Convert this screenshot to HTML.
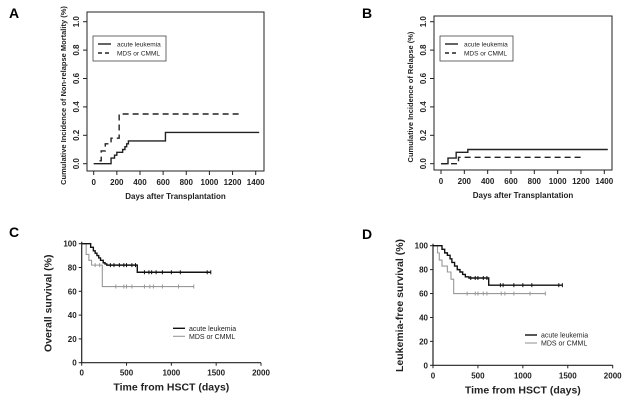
<!DOCTYPE html>
<html><head><meta charset="utf-8"><style>
html,body{margin:0;padding:0;background:#fff;width:634px;height:405px;overflow:hidden}
svg text{font-family:"Liberation Sans",sans-serif}
</style></head><body>
<svg id="s" width="634" height="405" xmlns="http://www.w3.org/2000/svg"></svg>
<script>
// Panel A data (cumulative incidence of non-relapse mortality)
const aAcuteT=[0,150,180,200,250,270,285,300,620,1430];
const aAcuteV=[0,0.04,0.06,0.08,0.10,0.12,0.14,0.16,0.22,0.22];
const aMdsT=[50,65,100,150,220,1260];
const aMdsV=[0.02,0.09,0.14,0.18,0.35,0.35];
// Panel B data (cumulative incidence of relapse)
const bAcuteT=[0,60,100,130,230,1430];
const bAcuteV=[0,0.04,0.04,0.08,0.10,0.10];
const bMdsT=[0,150,1210];
const bMdsV=[0,0.045,0.045];
// Panel C data (overall survival %)
const cAcuteT=[0,100,130,150,170,190,210,240,260,280,620,1440];
const cAcuteV=[100,97,94,92,90,88,86,84,83,82,76,76];
const cAcuteCens=[320,360,420,470,500,560,600,700,750,780,830,900,1000,1100,1400,1440];
const cMdsT=[0,50,80,110,230,1250];
const cMdsV=[100,91,86,82,64,64];
const cMdsCens=[150,200,380,470,500,560,700,760,800,900,1080,1250];
// Panel D data (leukemia-free survival %)
const dAcuteT=[0,100,130,160,190,210,240,270,300,330,360,400,620,1440];
const dAcuteV=[100,97,94,92,89,86,83,80,78,76,74,73,67,67];
const dAcuteCens=[420,470,500,560,600,750,780,900,1000,1100,1400,1440];
const dMdsT=[0,50,70,100,160,200,230,1250];
const dMdsV=[100,94,88,83,78,72,60,60];
const dMdsCens=[380,470,500,560,600,760,800,900,1080,1250];
const xTicksA=[0,200,400,600,800,1000,1200,1400];
const yTicksA=[0,0.2,0.4,0.6,0.8,1.0];
const xTicksC=[0,500,1000,1500,2000];
const yTicksC=[0,20,40,60,80,100];

const S=document.getElementById('s');const NS='http://www.w3.org/2000/svg';
function el(tag,at,txt){const e=document.createElementNS(NS,tag);for(const k in at)e.setAttribute(k,at[k]);if(txt!=null)e.textContent=txt;S.appendChild(e);return e;}
function lin(d0,d1,p0,p1){return v=>p0+(v-d0)/(d1-d0)*(p1-p0);}
function stepPath(T,V,x,y){let d='M'+x(T[0])+','+y(V[0]);for(let i=1;i<T.length;i++){d+='H'+x(T[i])+'V'+y(V[i]);}return d;}

function rPanel(letter,lx,ly,box,x0,x1,ytitle,aT,aV,mT,mV,leg,name){
  const x=lin(0,1400,x0,x1),y=lin(0,1,163.7,21.7);
  let t=el('text',{x:lx,y:ly,'font-size':14,'font-weight':'bold'},letter);
  
  let r=el('rect',{x:box[0],y:box[1],width:box[2]-box[0],height:box[3]-box[1],fill:'none',stroke:'#222','stroke-width':1});
  
  xTicksA.forEach(v=>{el('line',{x1:x(v),x2:x(v),y1:box[3],y2:box[3]+4,stroke:'#222'});
    const tt=el('text',{x:x(v),y:box[3]+14,'font-size':8,'font-weight':'bold','text-anchor':'middle',fill:'#222'},v);
    });
  yTicksA.forEach(v=>{el('line',{x1:box[0]-4,x2:box[0],y1:y(v),y2:y(v),stroke:'#222'});
    const tt=el('text',{x:box[0]-8,y:y(v),'font-size':8,'font-weight':'bold','text-anchor':'middle',fill:'#222',transform:`rotate(-90 ${box[0]-8} ${y(v)})`},v.toFixed(1));
    });
  const xt=el('text',{x:(box[0]+box[2])/2,y:box[3]+28,'font-size':8,'font-weight':'bold','text-anchor':'middle',fill:'#222'},'Days after Transplantation');
  
  const yx=box[0]-21,yy=(box[1]+box[3])/2+4;
  const yt=el('text',{x:yx,y:yy,'font-size':7.5,'font-weight':'bold','text-anchor':'middle',fill:'#222',transform:`rotate(-90 ${yx} ${yy})`},ytitle);
  
  const p1=el('path',{d:stepPath(aT,aV,x,y),fill:'none',stroke:'#222','stroke-width':1.4});
  
  const p2=el('path',{d:stepPath(mT,mV,x,y),fill:'none',stroke:'#222','stroke-width':1.4,'stroke-dasharray':'6,4'});
  
  const lg=el('rect',{x:leg[0],y:leg[1],width:73,height:25,fill:'#fff',stroke:'#444','stroke-width':0.8});
  
  el('line',{x1:leg[0]+5,x2:leg[0]+18,y1:leg[1]+8,y2:leg[1]+8,stroke:'#222','stroke-width':1.4});
  el('line',{x1:leg[0]+5,x2:leg[0]+18,y1:leg[1]+17,y2:leg[1]+17,stroke:'#222','stroke-width':1.4,'stroke-dasharray':'4,3'});
  const l1=el('text',{x:leg[0]+24,y:leg[1]+10.5,'font-size':6.5,fill:'#222'},'acute leukemia');
  
  const l2=el('text',{x:leg[0]+24,y:leg[1]+19.5,'font-size':6.5,fill:'#222'},'MDS or CMML');
  
}
rPanel('A',9,18,[87,12,264,171],93.7,255.7,'Cumulative Incidence of Non-relapse Mortality (%)',aAcuteT,aAcuteV,aMdsT,aMdsV,[93,36],'a');
rPanel('B',362,18,[434,16,612,170],441,604.3,'Cumulative Incidence of Relapse (%)',bAcuteT,bAcuteV,bMdsT,bMdsV,[440,36],'b');

function gPanel(letter,lx,ly,x0,x1,yTop,yBot,ytitle,aT,aV,aC,mT,mV,mC,leg,name){
  const x=lin(0,2000,x0,x1),y=lin(0,100,yBot,yTop);
  const t=el('text',{x:lx,y:ly,'font-size':14,'font-weight':'bold'},letter);
  
  const ax=el('path',{d:`M${x0},${yTop-2}V${yBot}H${x1}`,fill:'none',stroke:'#222','stroke-width':1.2});
  
  xTicksC.forEach(v=>{el('line',{x1:x(v),x2:x(v),y1:yBot,y2:yBot+3,stroke:'#222'});
    const tt=el('text',{x:x(v),y:yBot+13,'font-size':8,'font-weight':'bold','text-anchor':'middle',fill:'#222'},v);
    });
  yTicksC.forEach(v=>{el('line',{x1:x0-3,x2:x0,y1:y(v),y2:y(v),stroke:'#222'});
    const tt=el('text',{x:x0-5,y:y(v)+3,'font-size':8,'font-weight':'bold','text-anchor':'end',fill:'#222'},v);
    });
  const xt=el('text',{x:(x0+x1)/2,y:yBot+28,'font-size':10.5,'font-weight':'bold','text-anchor':'middle',fill:'#222'},'Time from HSCT (days)');
  
  const yx=x0-30,yy=(yTop+yBot)/2;
  const yt=el('text',{x:yx,y:yy,'font-size':10.5,'font-weight':'bold','text-anchor':'middle',fill:'#222',transform:`rotate(-90 ${yx} ${yy})`},ytitle);
  
  function valAt(T,V,c){let v=V[0];for(let i=0;i<T.length;i++)if(T[i]<=c)v=V[i];return v;}
  const p2=el('path',{d:stepPath(mT,mV,x,y),fill:'none',stroke:'#999','stroke-width':1.1});
  
  mC.forEach(c=>{const m=el('line',{x1:x(c),x2:x(c),y1:y(valAt(mT,mV,c))-2,y2:y(valAt(mT,mV,c))+2,stroke:'#999'});
    });
  const p1=el('path',{d:stepPath(aT,aV,x,y),fill:'none',stroke:'#111','stroke-width':1.4});
  
  aC.forEach(c=>{const m=el('line',{x1:x(c),x2:x(c),y1:y(valAt(aT,aV,c))-2,y2:y(valAt(aT,aV,c))+2,stroke:'#111'});
    });
  el('line',{x1:leg[0],x2:leg[0]+12,y1:leg[1],y2:leg[1],stroke:'#111','stroke-width':1.4});
  el('line',{x1:leg[0],x2:leg[0]+12,y1:leg[1]+8,y2:leg[1]+8,stroke:'#999','stroke-width':1.1});
  const l1=el('text',{x:leg[0]+16,y:leg[1]+2.5,'font-size':7,fill:'#222'},'acute leukemia');
  
  const l2=el('text',{x:leg[0]+16,y:leg[1]+10.5,'font-size':7,fill:'#222'},'MDS or CMML');
  
}
gPanel('C',9,237,81.7,261,243.7,362.7,'Overall survival (%)',cAcuteT,cAcuteV,cAcuteCens,cMdsT,cMdsV,cMdsCens,[173,328.3],'c');
gPanel('D',362,239,433,612.7,245.7,365.3,'Leukemia-free survival (%)',dAcuteT,dAcuteV,dAcuteCens,dMdsT,dMdsV,dMdsCens,[525,335],'d');
</script>
</body></html>
